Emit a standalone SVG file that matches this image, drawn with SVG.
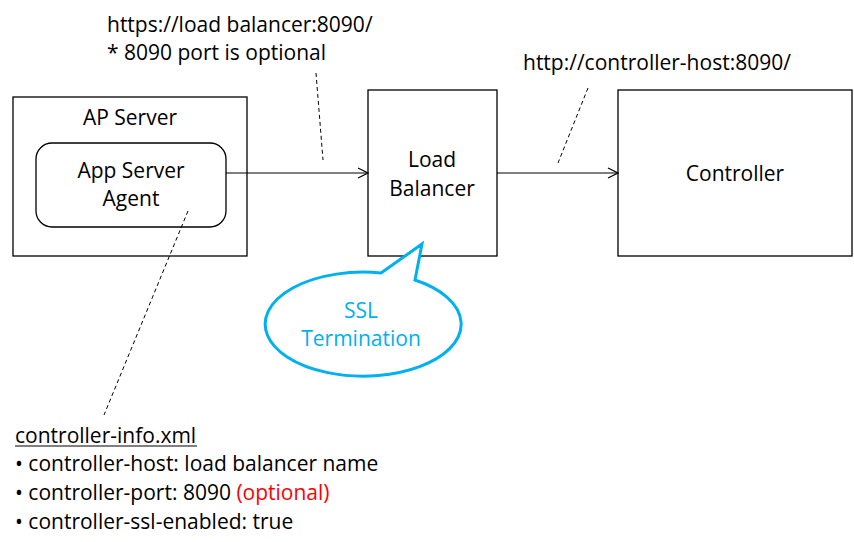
<svg xmlns="http://www.w3.org/2000/svg" width="854" height="542" viewBox="0 0 854 542">
<style>
text{font-family:"Open Sans","Liberation Sans",Arial,sans-serif;font-size:21px;fill:#000}
.c{text-anchor:middle}
.box{fill:#fff;stroke:#000;stroke-width:1.3}
.dash{fill:none;stroke:#000;stroke-width:1;stroke-dasharray:4,3}
.conn{fill:none;stroke:#000;stroke-width:1.2}
.blue{fill:#00B0F0}
</style>
<defs>
<marker id="arr" markerWidth="12" markerHeight="12" refX="11" refY="6" orient="auto" markerUnits="userSpaceOnUse">
<path d="M1,1 L11,6 L1,11" fill="none" stroke="#000" stroke-width="1.2"/>
</marker>
</defs>
<rect width="854" height="542" fill="#fff"/>
<g id="ap-server">
<rect class="box" x="13" y="97" width="234" height="159"/>
<text class="c" x="130" y="125">AP Server</text>
</g>
<g id="app-server-agent">
<rect class="box" x="36" y="143" width="190" height="84" rx="16" ry="16"/>
<text class="c" x="131" y="178">App Server</text>
<text class="c" x="131" y="206">Agent</text>
</g>
<g id="load-balancer">
<rect class="box" x="368" y="90" width="129" height="166"/>
<text class="c" x="432" y="167">Load</text>
<text class="c" x="432" y="196">Balancer</text>
</g>
<g id="controller">
<rect class="box" x="618" y="90" width="234" height="166"/>
<text class="c" x="735" y="181">Controller</text>
</g>
<g id="connectors">
<line class="conn" x1="226" y1="173" x2="368" y2="173" marker-end="url(#arr)"/>
<line class="conn" x1="497" y1="173" x2="618" y2="173" marker-end="url(#arr)"/>
<line class="dash" x1="316" y1="73" x2="323" y2="160"/>
<line class="dash" x1="588" y1="88" x2="558" y2="163"/>
<line class="dash" x1="188" y1="211" x2="104" y2="415"/>
</g>
<g id="url-lb">
<text x="107" y="32">https://load balancer:8090/</text>
<text x="107" y="60">* 8090 port is optional</text>
</g>
<g id="url-controller">
<text x="523" y="70">http://controller-host:8090/</text>
</g>
<g id="ssl-termination">
<path d="M381,273 L422,244 L415,280 A98,52 0 1 1 381,273 Z" fill="#fff" stroke="#00B0F0" stroke-width="3" stroke-linejoin="miter"/>
<text class="c blue" x="361" y="318">SSL</text>
<text class="c blue" x="361" y="346">Termination</text>
</g>
<g id="controller-info">
<text x="15" y="443">controller-info.xml</text>
<line x1="15" y1="446" x2="197" y2="446" stroke="#000" stroke-width="1.2"/>
<text x="15" y="471">• controller-host: load balancer name</text>
<text x="15" y="500">• controller-port: 8090 <tspan fill="#FF0000">(optional)</tspan></text>
<text x="15" y="529">• controller-ssl-enabled: true</text>
</g>
</svg>
